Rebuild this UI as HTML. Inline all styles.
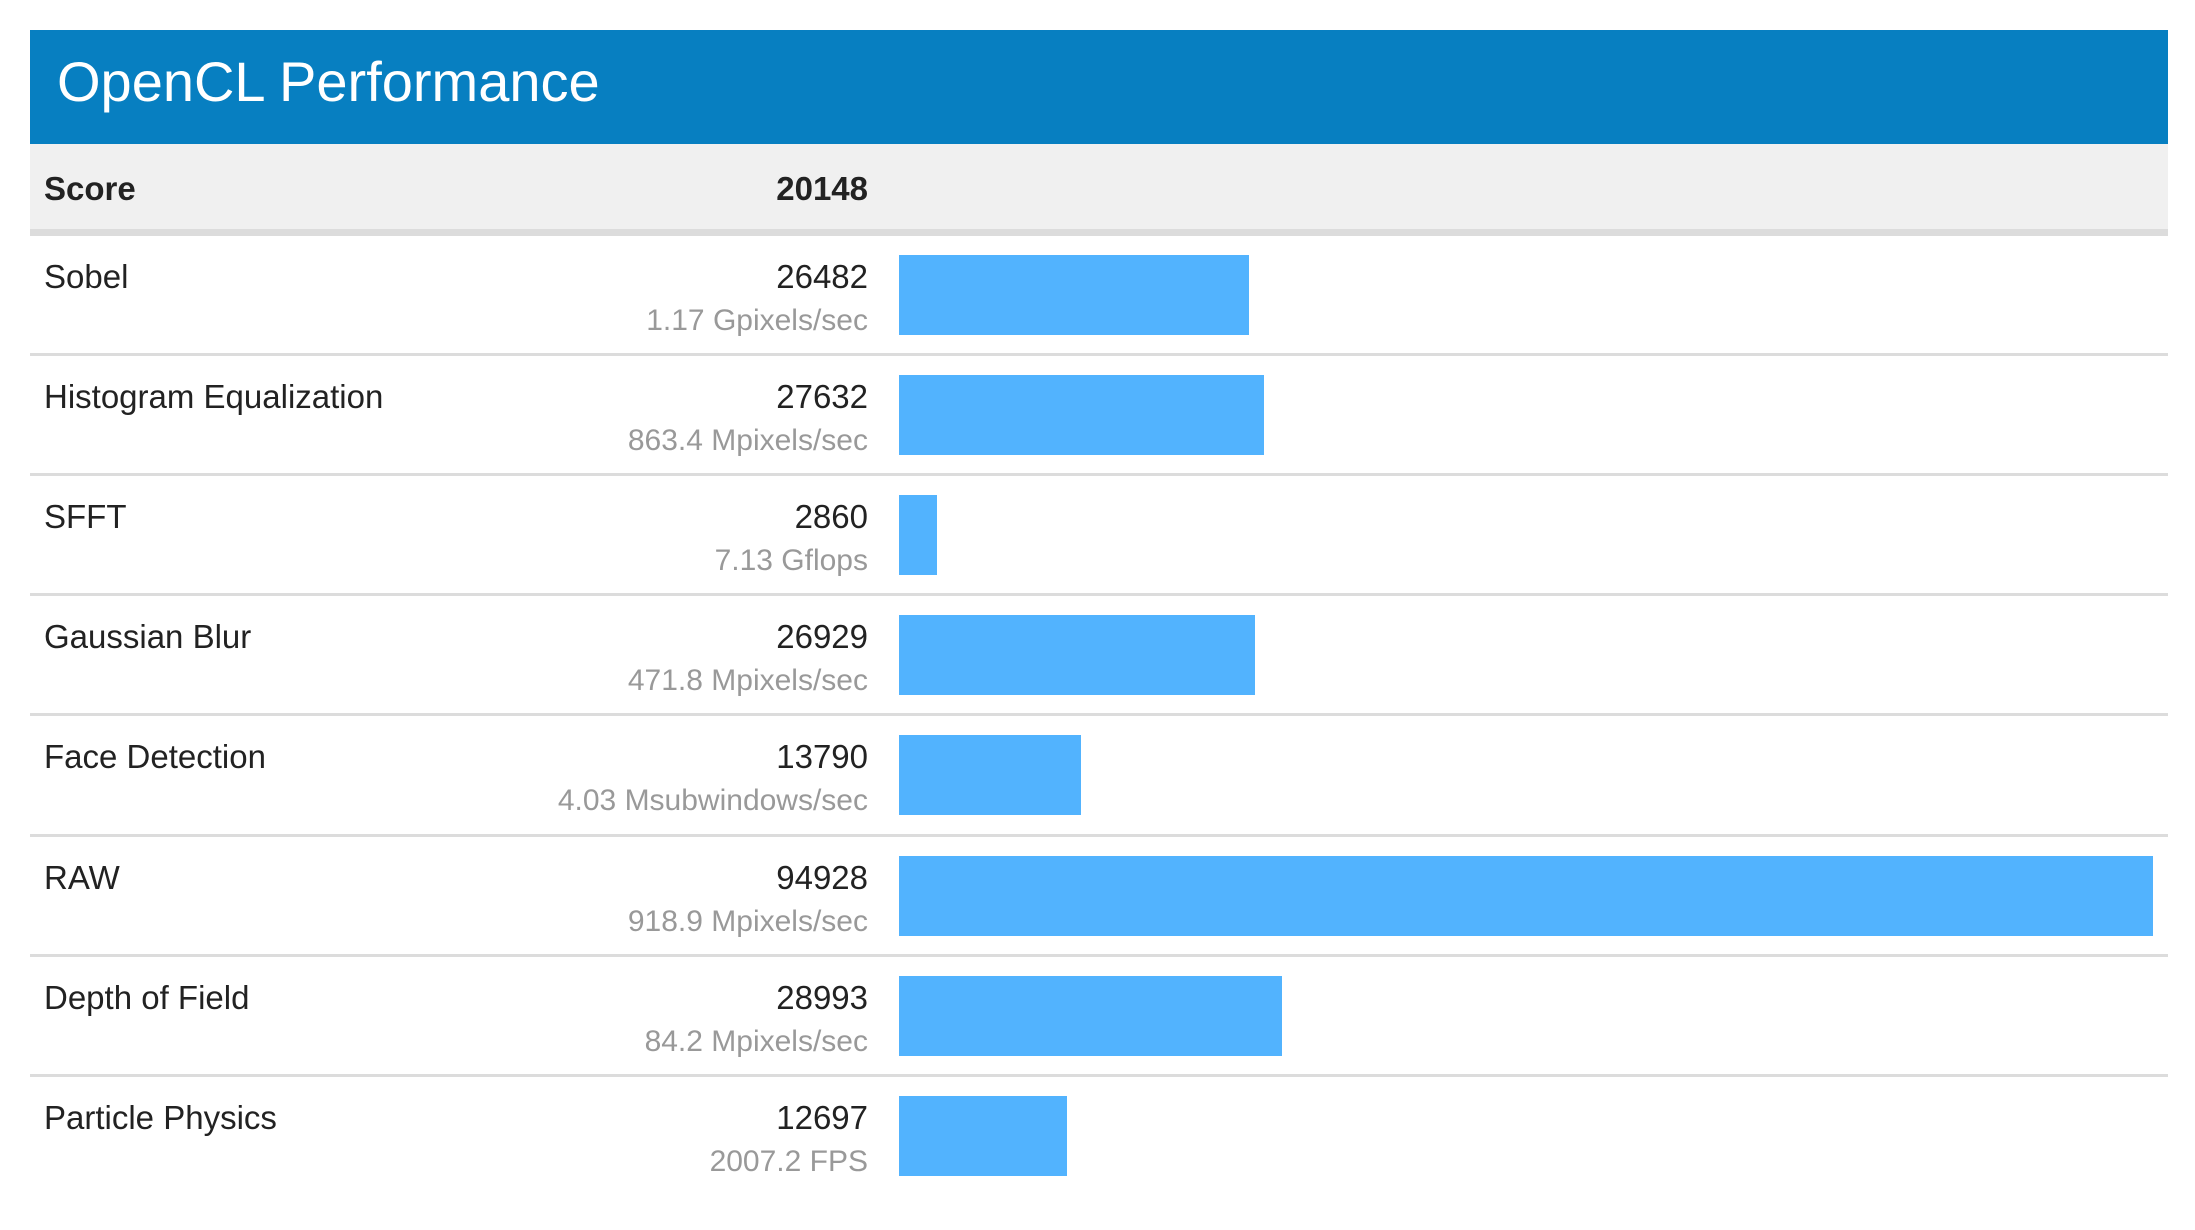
<!DOCTYPE html>
<html><head><meta charset="utf-8">
<style>
body{margin:0;width:2195px;height:1230px;background:#fff;position:relative;overflow:hidden;font-family:"Liberation Sans",Arial,sans-serif;}
.abs{position:absolute;}
#hdr{left:30px;top:30px;width:2138px;height:114px;background:#077fc1;}
#title{left:57px;top:54px;font-size:56px;color:#fff;line-height:1;white-space:nowrap;}
#scorerow{left:30px;top:144px;width:2138px;height:85px;background:#f0f0f0;border-bottom:7px solid #dcdcdc;}
.lbl{font-size:33px;color:#222;line-height:1;white-space:nowrap;}
.num{font-size:33px;color:#222;line-height:1;text-align:right;width:400px;white-space:nowrap;}
.sub{font-size:30px;color:#999;line-height:1;text-align:right;width:500px;white-space:nowrap;}
.bar{background:#52b3fe;height:80px;}
.sep{left:30px;width:2138px;height:3px;background:#dcdcdc;}
</style></head><body>
<div id="hdr" class="abs"></div>
<div id="title" class="abs">OpenCL Performance</div>
<div id="scorerow" class="abs"></div>
<div class="abs lbl" style="left:44px;top:172px;font-weight:bold">Score</div>
<div class="abs num" style="left:468px;top:172px;font-weight:bold">20148</div>
<div id="rows"></div>
<script>
const categories=["Sobel","Histogram Equalization","SFFT","Gaussian Blur","Face Detection","RAW","Depth of Field","Particle Physics"];
const scores=[26482,27632,2860,26929,13790,94928,28993,12697];
const subLabels=["1.17 Gpixels/sec","863.4 Mpixels/sec","7.13 Gflops","471.8 Mpixels/sec","4.03 Msubwindows/sec","918.9 Mpixels/sec","84.2 Mpixels/sec","2007.2 FPS"];
const maxScore=94928;
const barX=899, barMaxW=1254, rowTop0=236, rowH=120.1;
function xScale(v){return v/maxScore*barMaxW;}
const root=document.getElementById('rows');
categories.forEach((c,i)=>{
  const top=rowTop0+rowH*i;
  const n=document.createElement('div');
  n.className='abs lbl';n.style.left='44px';n.style.top=(top+24)+'px';n.textContent=c;
  
  
  root.appendChild(n);
  const v=document.createElement('div');
  v.className='abs num';v.style.left='468px';v.style.top=(top+24)+'px';v.textContent=scores[i];
  
  
  root.appendChild(v);
  const s=document.createElement('div');
  s.className='abs sub';s.style.left='368px';s.style.top=(top+70)+'px';s.textContent=subLabels[i];
  
  
  root.appendChild(s);
  const b=document.createElement('div');
  b.className='abs bar';b.style.left=barX+'px';b.style.top=(top+19)+'px';b.style.width=xScale(scores[i])+'px';
  
  
  root.appendChild(b);
  if(i<categories.length-1){
    const l=document.createElement('div');
    l.className='abs sep';l.style.top=(top+rowH-3)+'px';
    
    
    root.appendChild(l);
  }
});
</script>
</body></html>
